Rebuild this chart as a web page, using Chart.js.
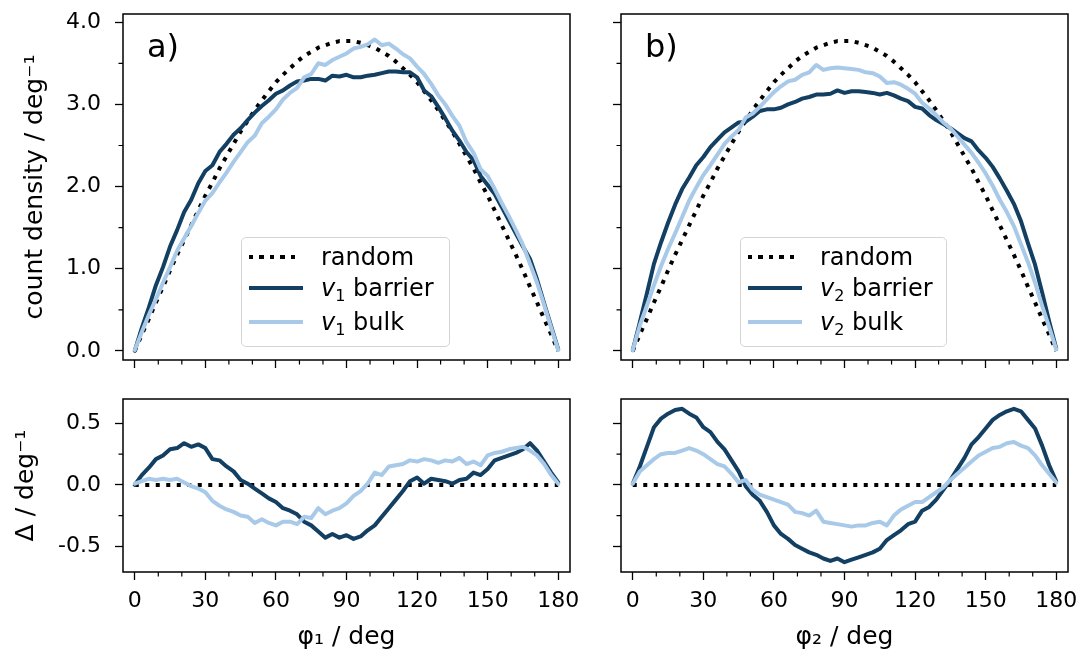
<!DOCTYPE html>
<html>
<head>
<meta charset="utf-8">
<script src="https://cdn.jsdelivr.net/npm/chart.js@4.4.1/dist/chart.umd.min.js"></script>
<style>
    html, body { margin: 0; padding: 0; background: #fff; }
    #fig { position: relative; width: 1078px; height: 652px; overflow: hidden; font-family: 'DejaVu Sans', sans-serif; color: #000; }
    canvas { position: absolute; }
    .tag { position: absolute; top: 30px; font-size: 32px; line-height: 1; }
    .legend { position: absolute; top: 237px; height: 110px; border: 1.3px solid #d4d4d4; border-radius: 5px; background: rgba(255, 255, 255, 0.8); box-sizing: border-box; }
    .row { position: absolute; left: 0; right: 0; height: 30px; }
    .sample { position: absolute; left: 7px; width: 54px; top: 13px; height: 4px; }
    .dots { width: 46px; height: 4px; background: repeating-linear-gradient(90deg, #000 0 4px, transparent 4px 10.5px); }
    .label { position: absolute; left: 79px; top: 0; line-height: 30px; font-size: 24px; white-space: nowrap; }
    .label sub { font-size: 16px; line-height: 0; vertical-align: -5px; }
</style>
</head>
<body>
<div id="fig">
    <canvas id="tl" width="600" height="380" style="left:0;top:0"></canvas>
    <canvas id="tr" width="578" height="380" style="left:500px;top:0"></canvas>
    <canvas id="bl" width="600" height="272" style="left:0;top:380px"></canvas>
    <canvas id="br" width="578" height="272" style="left:500px;top:380px"></canvas>

    <div class="tag" style="left:147px">a)</div>
    <div class="tag" style="left:645px">b)</div>

    <div class="legend" style="left:241px;width:209px">
        <div class="row" style="top:3.5px"><div class="sample dots"></div><span class="label">random</span></div>
        <div class="row" style="top:35px"><div class="sample" style="background:#123f62"></div><span class="label"><i>v</i><sub>1</sub> barrier</span></div>
        <div class="row" style="top:68.5px"><div class="sample" style="background:#a8cae8"></div><span class="label"><i>v</i><sub>1</sub> bulk</span></div>
    </div>
    <div class="legend" style="left:740px;width:207px">
        <div class="row" style="top:3.5px"><div class="sample dots"></div><span class="label">random</span></div>
        <div class="row" style="top:35px"><div class="sample" style="background:#123f62"></div><span class="label"><i>v</i><sub>2</sub> barrier</span></div>
        <div class="row" style="top:68.5px"><div class="sample" style="background:#a8cae8"></div><span class="label"><i>v</i><sub>2</sub> bulk</span></div>
    </div>
</div>

<script>
// angle bins (deg)
const ANGLE = [0, 3, 6, 9, 12, 15, 18, 21, 24, 27, 30, 33, 36, 39, 42, 45, 48, 51, 54, 57,
    60, 63, 66, 69, 72, 75, 78, 81, 84, 87, 90, 93, 96, 99, 102, 105, 108, 111, 114, 117,
    120, 123, 126, 129, 132, 135, 138, 141, 144, 147, 150, 153, 156, 159, 162, 165, 168, 171, 174, 177, 180];

const RANDOM = [0.00, 0.20, 0.39, 0.59, 0.78, 0.98, 1.17, 1.35, 1.53, 1.71,
    1.89, 2.05, 2.22, 2.37, 2.52, 2.67, 2.80, 2.93, 3.05, 3.16,
    3.27, 3.36, 3.44, 3.52, 3.59, 3.64, 3.69, 3.72, 3.75, 3.77,
    3.77, 3.77, 3.75, 3.72, 3.69, 3.64, 3.59, 3.52, 3.44, 3.36,
    3.27, 3.16, 3.05, 2.93, 2.80, 2.67, 2.52, 2.37, 2.22, 2.05,
    1.89, 1.71, 1.53, 1.35, 1.17, 0.98, 0.78, 0.59, 0.39, 0.20, 0.00];

// panel a) count density
const A_BARRIER = [0.00, 0.28, 0.53, 0.80, 1.02, 1.27, 1.47, 1.69, 1.84, 2.04,
    2.19, 2.26, 2.42, 2.52, 2.63, 2.71, 2.81, 2.90, 2.98, 3.05,
    3.13, 3.17, 3.23, 3.28, 3.29, 3.31, 3.31, 3.29, 3.35, 3.34,
    3.36, 3.33, 3.33, 3.35, 3.36, 3.38, 3.40, 3.40, 3.39, 3.39,
    3.33, 3.17, 3.10, 2.97, 2.83, 2.68, 2.56, 2.42, 2.32, 2.13,
    2.02, 1.91, 1.75, 1.59, 1.43, 1.27, 1.12, 0.87, 0.58, 0.30, 0.02];
const A_BULK = [0.01, 0.23, 0.44, 0.63, 0.83, 1.02, 1.22, 1.37, 1.52, 1.68,
    1.83, 1.92, 2.05, 2.17, 2.30, 2.42, 2.54, 2.62, 2.77, 2.85,
    2.94, 3.06, 3.14, 3.20, 3.33, 3.37, 3.50, 3.48, 3.54, 3.58,
    3.62, 3.68, 3.70, 3.73, 3.79, 3.72, 3.74, 3.68, 3.61, 3.56,
    3.46, 3.37, 3.25, 3.11, 3.00, 2.86, 2.74, 2.54, 2.41, 2.21,
    2.13, 1.97, 1.80, 1.64, 1.47, 1.29, 1.06, 0.83, 0.56, 0.28, 0.01];

// panel b) count density
const B_BARRIER = [0.01, 0.35, 0.70, 1.06, 1.32, 1.56, 1.78, 1.97, 2.11, 2.26,
    2.36, 2.48, 2.57, 2.66, 2.72, 2.78, 2.79, 2.85, 2.92, 2.94,
    2.94, 2.96, 3.00, 3.03, 3.07, 3.09, 3.12, 3.12, 3.13, 3.17,
    3.14, 3.16, 3.16, 3.15, 3.14, 3.12, 3.14, 3.11, 3.07, 3.04,
    2.97, 2.95, 2.87, 2.81, 2.76, 2.71, 2.65, 2.59, 2.55, 2.44,
    2.35, 2.24, 2.10, 1.95, 1.79, 1.58, 1.31, 1.05, 0.71, 0.36, 0.03];
const B_BULK = [0.01, 0.31, 0.55, 0.80, 1.03, 1.24, 1.43, 1.63, 1.83, 1.99,
    2.14, 2.26, 2.39, 2.52, 2.61, 2.69, 2.84, 2.89, 2.97, 3.06,
    3.15, 3.22, 3.28, 3.30, 3.36, 3.39, 3.48, 3.42, 3.44, 3.45,
    3.44, 3.43, 3.42, 3.39, 3.38, 3.34, 3.26, 3.27, 3.24, 3.19,
    3.13, 3.02, 2.95, 2.87, 2.78, 2.71, 2.61, 2.51, 2.41, 2.29,
    2.16, 2.01, 1.84, 1.69, 1.52, 1.30, 1.08, 0.83, 0.55, 0.29, 0.02];

// differences to random
const A_DELTA_BARRIER = [0.00, 0.08, 0.14, 0.21, 0.24, 0.29, 0.30, 0.34, 0.31, 0.33,
    0.30, 0.21, 0.20, 0.15, 0.11, 0.04, 0.01, -0.03, -0.07, -0.11,
    -0.14, -0.19, -0.21, -0.24, -0.30, -0.33, -0.38, -0.43, -0.40, -0.43,
    -0.41, -0.44, -0.42, -0.37, -0.33, -0.26, -0.19, -0.12, -0.05, 0.03,
    0.06, 0.01, 0.05, 0.04, 0.03, 0.01, 0.04, 0.05, 0.10, 0.08,
    0.13, 0.20, 0.22, 0.24, 0.26, 0.29, 0.34, 0.28, 0.19, 0.10, 0.02];
const A_DELTA_BULK = [0.01, 0.03, 0.05, 0.04, 0.05, 0.04, 0.05, 0.02, -0.01, -0.03,
    -0.06, -0.13, -0.17, -0.20, -0.22, -0.25, -0.26, -0.31, -0.28, -0.31,
    -0.33, -0.30, -0.30, -0.32, -0.26, -0.27, -0.19, -0.24, -0.21, -0.19,
    -0.15, -0.09, -0.05, 0.01, 0.10, 0.08, 0.15, 0.16, 0.17, 0.20,
    0.19, 0.21, 0.20, 0.18, 0.20, 0.19, 0.22, 0.17, 0.19, 0.16,
    0.24, 0.26, 0.27, 0.29, 0.30, 0.31, 0.28, 0.24, 0.17, 0.08, 0.01];
const B_DELTA_BARRIER = [0.01, 0.15, 0.31, 0.47, 0.54, 0.58, 0.61, 0.62, 0.58, 0.55,
    0.47, 0.43, 0.35, 0.29, 0.20, 0.11, -0.01, -0.08, -0.13, -0.22,
    -0.33, -0.40, -0.44, -0.49, -0.52, -0.55, -0.57, -0.60, -0.62, -0.60,
    -0.63, -0.61, -0.59, -0.57, -0.55, -0.52, -0.45, -0.41, -0.37, -0.32,
    -0.30, -0.21, -0.18, -0.12, -0.04, 0.04, 0.13, 0.22, 0.33, 0.39,
    0.46, 0.53, 0.57, 0.60, 0.62, 0.60, 0.53, 0.46, 0.32, 0.16, 0.03];
const B_DELTA_BULK = [0.01, 0.11, 0.16, 0.21, 0.25, 0.26, 0.26, 0.28, 0.30, 0.28,
    0.25, 0.21, 0.17, 0.15, 0.09, 0.02, 0.04, -0.04, -0.08, -0.10,
    -0.12, -0.14, -0.16, -0.22, -0.23, -0.25, -0.21, -0.30, -0.31, -0.32,
    -0.33, -0.34, -0.33, -0.33, -0.31, -0.30, -0.33, -0.25, -0.20, -0.17,
    -0.14, -0.14, -0.10, -0.06, -0.02, 0.04, 0.09, 0.14, 0.19, 0.24,
    0.27, 0.30, 0.31, 0.34, 0.35, 0.32, 0.30, 0.24, 0.16, 0.09, 0.02];

// random reference in the difference panels
const DELTA_RANDOM_X = [0, 180];
const DELTA_RANDOM = [0, 0];

// ticks
const X_TICKS = [0, 30, 60, 90, 120, 150, 180];
const X_MINOR = [10, 20, 40, 50, 70, 80, 100, 110, 130, 140, 160, 170];
const TOP_Y_TICKS = [0, 1, 2, 3, 4];
const TOP_Y_MINOR = [0.5, 1.5, 2.5, 3.5];
const DELTA_Y_TICKS = [-0.5, 0, 0.5];
const DELTA_Y_MINOR = [-0.25, 0.25];

const DARK = '#123f62';
const LIGHT = '#a8cae8';

Chart.defaults.font.family = "'DejaVu Sans', sans-serif";
Chart.defaults.color = '#000';

// box around the plot + minor tick marks
const framePlugin = {
    id: 'frame',
    afterDraw(chart, args, opts) {
        const { ctx, chartArea: a, scales } = chart;
        ctx.save();
        ctx.strokeStyle = '#000';
        ctx.lineWidth = 1.2;
        ctx.beginPath();
        X_MINOR.forEach(v => {
            const p = scales.x.getPixelForValue(v);
            ctx.moveTo(p, a.bottom);
            ctx.lineTo(p, a.bottom + 4.5);
        });
        opts.yMinor.forEach(v => {
            const p = scales.y.getPixelForValue(v);
            ctx.moveTo(a.left, p);
            ctx.lineTo(a.left - 4.5, p);
        });
        ctx.stroke();
        ctx.lineWidth = 1.5;
        ctx.strokeRect(a.left, a.top, a.right - a.left, a.bottom - a.top);
        ctx.restore();
    }
};

function points(xs, ys) {
    return xs.map((x, i) => ({ x: x, y: ys[i] }));
}

function makePanel(id, cfg) {
    const datasets = [
        { data: points(ANGLE, cfg.bulk), borderColor: LIGHT, borderWidth: 4, order: 1 },
        { data: points(ANGLE, cfg.barrier), borderColor: DARK, borderWidth: 4, order: 2 },
        { data: points(cfg.randomX, cfg.random), borderColor: '#000', borderWidth: 4,
          borderDash: [4, 6.5], borderCapStyle: 'butt', order: 3 }
    ];

    return new Chart(document.getElementById(id), {
        type: 'line',
        data: { datasets: datasets },
        options: {
            responsive: false,
            animation: false,
            events: [],
            layout: { padding: cfg.padding },
            elements: {
                point: { radius: 0 },
                line: { tension: 0, fill: false, borderJoinStyle: 'round', borderCapStyle: 'round' }
            },
            plugins: {
                legend: { display: false },
                tooltip: { enabled: false },
                frame: { yMinor: cfg.yMinor }
            },
            scales: {
                x: {
                    type: 'linear',
                    min: -5,
                    max: 185,
                    afterBuildTicks: s => { s.ticks = X_TICKS.map(v => ({ value: v })); },
                    afterFit: s => { s.height = cfg.xHeight; s.paddingLeft = 0; s.paddingRight = 0; },
                    border: { display: false },
                    grid: { drawOnChartArea: false, drawTicks: true, tickLength: 8, tickColor: '#000', tickWidth: 1.3 },
                    ticks: { display: cfg.xLabels, autoSkip: false, maxRotation: 0, padding: 8,
                             font: { size: 22 }, callback: v => String(v) },
                    title: { display: !!cfg.xTitle, text: cfg.xTitle || '', font: { size: 25 },
                             padding: { top: 0, bottom: 0 } }
                },
                y: {
                    type: 'linear',
                    min: cfg.yMin,
                    max: cfg.yMax,
                    afterBuildTicks: s => { s.ticks = cfg.yTicks.map(v => ({ value: v })); },
                    afterFit: s => { s.width = cfg.yWidth; s.paddingTop = 0; s.paddingBottom = 0; },
                    border: { display: false },
                    grid: { drawOnChartArea: false, drawTicks: true, tickLength: 8, tickColor: '#000', tickWidth: 1.3 },
                    ticks: { display: cfg.yLabels, autoSkip: false, padding: 14,
                             font: { size: 22 }, callback: v => v.toFixed(1) },
                    title: { display: !!cfg.yTitle, text: cfg.yTitle || '', font: { size: 25 },
                             padding: { top: cfg.yTitlePad || 0, bottom: 0 } }
                }
            }
        },
        plugins: [framePlugin]
    });
}

const topCommon = { yMin: -0.11, yMax: 4.1, yTicks: TOP_Y_TICKS, yMinor: TOP_Y_MINOR,
                    randomX: ANGLE, random: RANDOM, xHeight: 20, xLabels: false };
const deltaCommon = { yMin: -0.71, yMax: 0.70, yTicks: DELTA_Y_TICKS, yMinor: DELTA_Y_MINOR,
                      randomX: DELTA_RANDOM_X, random: DELTA_RANDOM, xHeight: 80, xLabels: true };

makePanel('tl', Object.assign({}, topCommon, {
    barrier: A_BARRIER, bulk: A_BULK,
    yWidth: 123, yLabels: true, yTitle: 'count density / deg\u207B\u00B9', yTitlePad: 20,
    padding: { top: 14, right: 30, bottom: 0, left: 0 }
}));
makePanel('tr', Object.assign({}, topCommon, {
    barrier: B_BARRIER, bulk: B_BULK,
    yWidth: 121, yLabels: false,
    padding: { top: 14, right: 10, bottom: 0, left: 0 }
}));
makePanel('bl', Object.assign({}, deltaCommon, {
    barrier: A_DELTA_BARRIER, bulk: A_DELTA_BULK,
    yWidth: 123, yLabels: true, yTitle: '\u0394 / deg\u207B\u00B9', yTitlePad: 11,
    xTitle: '\u03C6\u2081 / deg',
    padding: { top: 19, right: 30, bottom: 0, left: 0 }
}));
makePanel('br', Object.assign({}, deltaCommon, {
    barrier: B_DELTA_BARRIER, bulk: B_DELTA_BULK,
    yWidth: 121, yLabels: false,
    xTitle: '\u03C6\u2082 / deg',
    padding: { top: 19, right: 10, bottom: 0, left: 0 }
}));
</script>
</body>
</html>
